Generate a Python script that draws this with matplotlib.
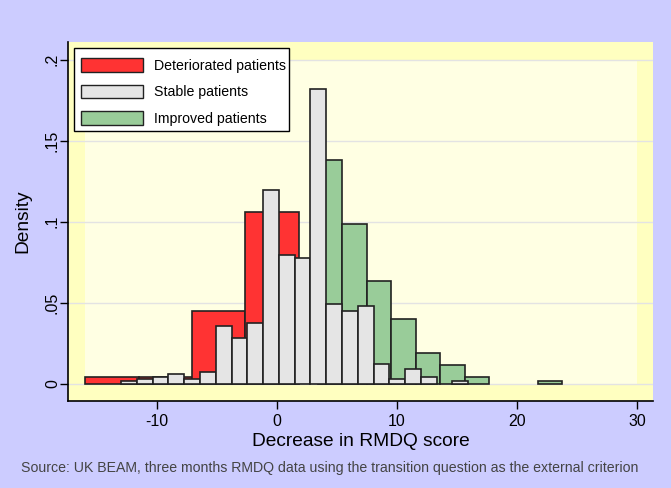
import numpy as np
import matplotlib.pyplot as plt
from matplotlib.patches import Rectangle, Patch

plt.rcParams['font.family'] = ['Liberation Sans', 'DejaVu Sans']
plt.rcParams['axes.unicode_minus'] = False

# deteriorated patients (red), bins of ~4.45 starting at -16
det_start, det_width = -16.0, 4.45
det_heights = [0.0045, 0.0045, 0.0453, 0.106]

# stable patients (grey), bins of ~1.315 starting at -13
stab_start, stab_width = -13.0, 1.315
stab_heights = [0.0016, 0.0029, 0.0041, 0.0060, 0.0029, 0.0072, 0.0356, 0.0282,
                0.0374, 0.1195, 0.0794, 0.0776, 0.182, 0.0492, 0.0449, 0.0480,
                0.0122, 0.0029, 0.0091, 0.0041, 0.0, 0.0016]

# improved patients (green), bins of ~2.04 starting at 3.38
imp_start, imp_width = 3.38, 2.04
imp_heights = [0.138, 0.0986, 0.0634, 0.040, 0.019, 0.0115, 0.0041, 0.0, 0.0, 0.0017]

xticks = [-10, 0, 10, 20, 30]
yticks = [0, 0.05, 0.1, 0.15, 0.2]
ytick_labels = ['0', '.05', '.1', '.15', '.2']

red = '#FF3333'
grey = '#E5E5E5'
green = '#99CC99'
edge = '#222222'

fig = plt.figure(figsize=(6.71, 4.88), dpi=100, facecolor='#CCCCFF')
ax = fig.add_axes([0.1018, 0.1783, 0.8709, 0.7350])
ax.set_facecolor('#FFFFC0')

ax.add_patch(Rectangle((-16, 0), 46, 0.2, facecolor='#FFFFE3', edgecolor='none', zorder=0))


def draw_bars(start, width, heights, color, z):
    lefts = start + width * np.arange(len(heights))
    h = np.array(heights)
    keep = h > 0
    ax.bar(lefts[keep], h[keep], width=width, align='edge', color=color,
           edgecolor=edge, linewidth=1.2, zorder=z)


draw_bars(det_start, det_width, det_heights, red, 2)
draw_bars(imp_start, imp_width, imp_heights, green, 3)
draw_bars(stab_start, stab_width, stab_heights, grey, 4)

ax.set_xlim(-17.4, 31.3)
ax.set_ylim(-0.0105, 0.2107)
ax.set_xticks(xticks)
ax.set_yticks(yticks)
ax.set_yticklabels(ytick_labels, rotation=90, va='center')
ax.tick_params(axis='both', labelsize=11.5, length=6, width=1, colors='black')
ax.tick_params(axis='y', pad=0)
ax.yaxis.grid(True, color='#E3E3E3', linewidth=1)
ax.set_axisbelow(True)
for s in ['top', 'right']:
    ax.spines[s].set_visible(False)
for s in ['left', 'bottom']:
    ax.spines[s].set_linewidth(1.2)

ax.set_xlabel('Decrease in RMDQ score', fontsize=13.8, labelpad=3)
ax.set_ylabel('Density', fontsize=13.8, labelpad=10)

# legend frame drawn by hand (Stata-style box, tight on the right)
ax.add_patch(Rectangle((0.00975, 0.7527), 0.368, 0.2314, transform=ax.transAxes,
                       facecolor='white', edgecolor='black', linewidth=1, zorder=6))

handles = [Patch(facecolor=red, edgecolor=edge),
           Patch(facecolor=grey, edgecolor=edge),
           Patch(facecolor=green, edgecolor=edge)]
leg = ax.legend(handles, ['Deteriorated patients', 'Stable patients', 'Improved patients'],
                loc='upper left', bbox_to_anchor=(0.0217, 0.9564), borderaxespad=0,
                fontsize=10.2, frameon=False, handlelength=4.4, handleheight=1.12,
                handletextpad=0.78, labelspacing=0.84, borderpad=0)
leg.set_zorder(7)

fig.text(0.492, 0.033, 'Source: UK BEAM, three months RMDQ data using the transition question as the external criterion',
         ha='center', fontsize=10.2, color='#444444')

fig.savefig('out.png', dpi=100, facecolor=fig.get_facecolor())
